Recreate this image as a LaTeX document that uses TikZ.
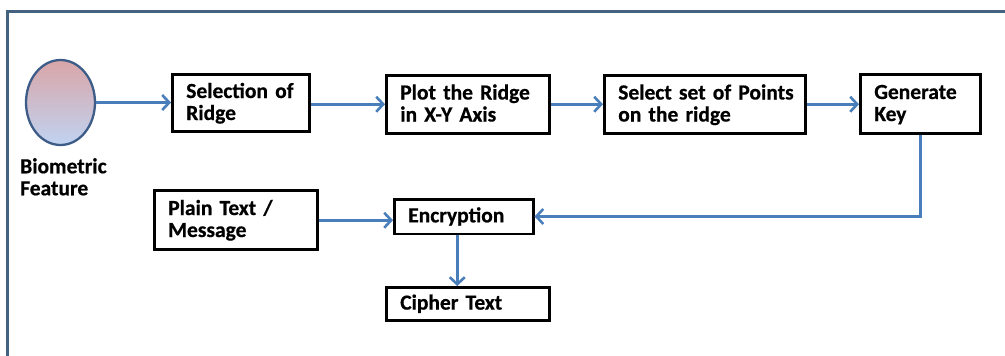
\documentclass[tikz,border=0pt]{standalone}
\usepackage{fontspec}
\setmainfont{Carlito}[BoldFeatures={FakeBold=0.6}]
\usetikzlibrary{arrows.meta,shapes.geometric}

\definecolor{framec}{HTML}{43627F}
\definecolor{flowc}{HTML}{4A7EBB}
\definecolor{ovaledge}{HTML}{3E5C88}
\definecolor{ovaltop}{HTML}{D9A5A7}
\definecolor{ovalbot}{HTML}{C0D3F2}

% struts that fix the vertical placement of two-line labels
\newcommand{\hiline}{\rule{0pt}{17pt}}
\newcommand{\loline}{\rule[-4.5pt]{0pt}{4.5pt}}

\tikzset{
  stepbox/.style={rectangle, draw=black, fill=white, line width=2.5pt,
    anchor=north west, inner xsep=14pt, inner ysep=0pt, align=left,
    font=\bfseries\fontsize{21.5}{22}\selectfont},
  flow/.style={draw=flowc, line width=2.6pt,
    -{Straight Barb[length=7pt,width=15pt,line width=2.6pt]}},
  caption/.style={anchor=north west, inner sep=0pt, align=left,
    font=\bfseries\fontsize{21.5}{22}\selectfont},
}

\begin{document}
\begin{tikzpicture}[x=1pt,y=-1pt]
  \useasboundingbox (0,0) rectangle (1005,356);

  % outer frame (top and left edges)
  \draw[framec, line width=3pt] (7,356) -- (7,11) -- (1005,11);

  % biometric input
  \node[ellipse, draw=ovaledge, line width=2.3pt, minimum width=69pt,
        minimum height=85pt, inner sep=0pt,
        top color=ovaltop, bottom color=ovalbot] (bio) at (60.5,102.5) {};
  \node[caption] (biotext) at (20,158) {Biometric\\Feature};

  % processing steps
  \node[stepbox, text width=109pt, minimum height=57pt] (sel) at (171,73)
    {\hiline\mbox{Selection of}\\Ridge\loline};
  \node[stepbox, text width=135pt, minimum height=58pt] (plot) at (385,74)
    {\hiline\mbox{Plot the Ridge}\\\mbox{in X-Y Axis}\loline};
  \node[stepbox, text width=173pt, minimum height=58pt] (pts) at (603,74)
    {\hiline\mbox{Select set of Points}\\\mbox{on the ridge}\loline};
  \node[stepbox, text width=92pt, minimum height=59pt] (gen) at (859,73)
    {\hiline Generate\\Key\loline};
  \node[stepbox, text width=135pt, minimum height=59pt] (plain) at (153,189)
    {\hiline\mbox{Plain Text /}\\Message\loline};
  \node[stepbox, text width=111pt, minimum height=34.5pt] (enc) at (393,198)
    {Encryption};
  \node[stepbox, text width=135pt, minimum height=33pt] (ciph) at (385,286)
    {\mbox{Cipher Text}};

  % connectors
  \draw[flow] (bio.east) -- (bio.east -| sel.west);
  \draw[flow] (sel.east |- plot.west) -- (plot.west);
  \draw[flow] (plot.east) -- (plot.east -| pts.west);
  \draw[flow] (pts.east) -- (pts.east -| gen.west);
  \draw[flow] (gen.south) |- (enc.east);
  \draw[flow] ([yshift=-0.5pt]plain.east) -- ([yshift=-0.5pt]plain.east -| enc.west);
  \draw[flow] ([xshift=-6.5pt]enc.south) -- ([xshift=-6.5pt]enc.south |- ciph.north);
\end{tikzpicture}
\end{document}
